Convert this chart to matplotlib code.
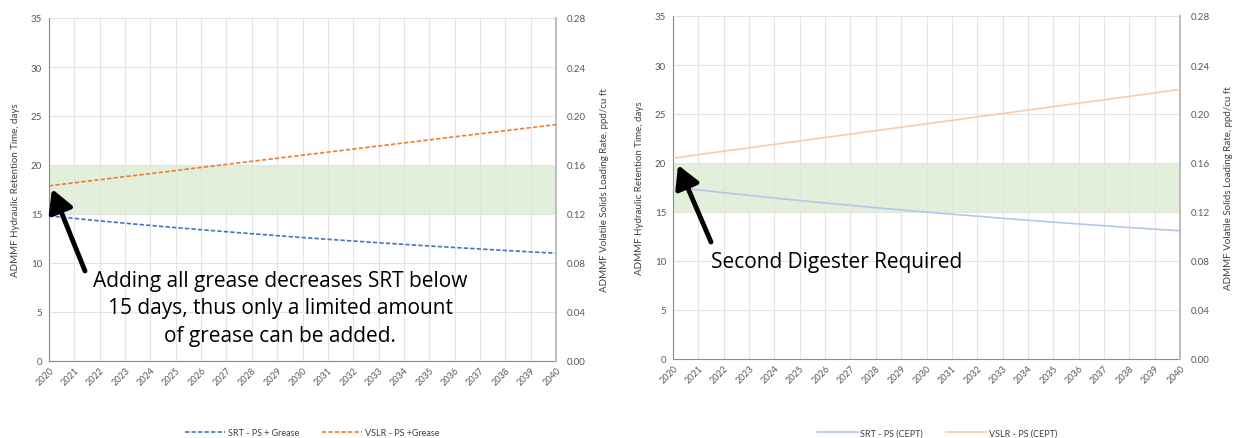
import matplotlib
matplotlib.use("Agg")
import matplotlib.pyplot as plt
from matplotlib.ticker import FormatStrFormatter, MultipleLocator

plt.rcParams['font.family'] = ['Lato', 'DejaVu Sans']

years = list(range(2020, 2041))

# Scenario 1: primary sludge + all grease
srt_grease = [14.80, 14.55, 14.30, 14.06, 13.83, 13.61, 13.40, 13.19, 12.99, 12.79,
              12.60, 12.42, 12.24, 12.07, 11.90, 11.74, 11.58, 11.43, 11.28, 11.13, 11.00]
vslr_grease = [0.143, 0.1455, 0.148, 0.1505, 0.153, 0.1555, 0.158, 0.1605, 0.163, 0.1655,
               0.168, 0.1705, 0.173, 0.1755, 0.178, 0.1805, 0.183, 0.1855, 0.188, 0.1905, 0.193]

# Scenario 2: CEPT primary sludge
srt_cept = [17.55, 17.26, 16.97, 16.70, 16.43, 16.17, 15.92, 15.68, 15.44, 15.21,
            14.99, 14.78, 14.57, 14.36, 14.16, 13.97, 13.78, 13.60, 13.42, 13.25, 13.08]
vslr_cept = [0.164, 0.1668, 0.1696, 0.1724, 0.1752, 0.178, 0.1808, 0.1836, 0.1864, 0.1892,
             0.192, 0.1948, 0.1976, 0.2004, 0.2032, 0.206, 0.2088, 0.2116, 0.2144, 0.2172, 0.220]

target_srt = (15, 20)

panels = [
    dict(srt=srt_grease, vslr=vslr_grease, dashed=True,
         c_srt='#4472C4', c_vslr='#ED7D31',
         lab_srt='SRT - PS + Grease', lab_vslr='VSLR - PS +Grease',
         rect=[49/1236, 1-362/439, 507/1236, 343/439], leg_x=312/1236,
         note="Adding all grease decreases SRT below\n15 days, thus only a limited amount\nof grease can be added.",
         note_xy=(280, 309), note_ha='center',
         arrow_tail=(85, 272), arrow_head=(52, 190)),
    dict(srt=srt_cept, vslr=vslr_cept, dashed=False,
         c_srt='#B4C7E7', c_vslr='#F8CBAD',
         lab_srt='SRT - PS (CEPT)', lab_vslr='VSLR - PS (CEPT)',
         rect=[673/1236, 1-360/439, 507/1236, 343/439], leg_x=937/1236,
         note="Second Digester Required",
         note_xy=(711, 263), note_ha='left',
         arrow_tail=(711, 243), arrow_head=(678, 166)),
]

W, H = 1236, 439
fig = plt.figure(figsize=(W/100, H/100), dpi=100)

tick_col = '#595959'
for p in panels:
    ax = fig.add_axes(p['rect'])
    ax2 = ax.twinx()
    ax.set_zorder(ax2.get_zorder() - 1)
    ax.patch.set_visible(True)
    ax2.patch.set_visible(False)

    ax.axhspan(*target_srt, color='#E2EFDA', zorder=0.5, lw=0)
    ax.set_xlim(2020, 2040)
    ax.set_ylim(0, 35)
    ax2.set_ylim(0, 0.28)
    ax.yaxis.set_major_locator(MultipleLocator(5))
    ax2.yaxis.set_major_locator(MultipleLocator(0.04))
    ax2.yaxis.set_major_formatter(FormatStrFormatter('%.2f'))
    ax.set_xticks(years)
    ax.set_xticklabels([str(y) for y in years], rotation=45, ha='right',
                       rotation_mode='anchor', fontsize=6.5, color=tick_col)
    ax.tick_params(axis='y', labelsize=7, colors=tick_col, length=0, pad=5)
    ax.tick_params(axis='x', length=0, pad=3)
    ax2.tick_params(axis='y', labelsize=7, colors=tick_col, length=0, pad=8)
    ax.grid(True, color='#e4e4e4', lw=0.8, zorder=0)
    ax.set_axisbelow(True)

    for a in (ax, ax2):
        a.spines['top'].set_visible(False)
    ax.spines['left'].set_color('#8c8c8c')
    ax.spines['bottom'].set_color('#8c8c8c')
    ax.spines['right'].set_visible(False)
    ax2.spines['left'].set_visible(False)
    ax2.spines['bottom'].set_visible(False)
    ax2.spines['right'].set_color('#bfbfbf')
    ax2.spines['right'].set_linewidth(1.5)

    ax.set_ylabel('ADMMF Hydraulic Retention Time, days', fontsize=7, color='#404040', labelpad=8)
    ax2.set_ylabel('ADMMF Volatile Solids Loading Rate, ppd/cu ft', fontsize=7,
                   color='#404040', labelpad=10)

    line_kw = dict(lw=1.2, zorder=3)
    if p['dashed']:
        line_kw['dashes'] = (2.6, 1.3)
    l1, = ax.plot(years, p['srt'], color=p['c_srt'], label=p['lab_srt'], **line_kw)
    l2, = ax2.plot(years, p['vslr'], color=p['c_vslr'], label=p['lab_vslr'], **line_kw)

    fig.legend(handles=[l1, l2], loc='center', bbox_to_anchor=(p['leg_x'], 1 - 434/H),
               ncol=2, frameon=False, fontsize=6.5, handlelength=4.5, columnspacing=2.5,
               handletextpad=0.3, labelcolor='#404040')

    fig.text(p['note_xy'][0]/W, 1 - p['note_xy'][1]/H, p['note'], fontsize=15,
             ha=p['note_ha'], va='center', linespacing=1.42, color='black',
             family=['Open Sans', 'DejaVu Sans'])

    tx, ty = p['arrow_tail']
    hx, hy = p['arrow_head']
    fig.add_artist(matplotlib.patches.FancyArrowPatch(
        (tx/W, 1 - ty/H), (hx/W, 1 - hy/H), transform=fig.transFigure,
        arrowstyle='-|>,head_length=9,head_width=5', lw=3.5, color='black',
        mutation_scale=1.5, shrinkA=0, shrinkB=0))

fig.savefig('out.png', dpi=100)
